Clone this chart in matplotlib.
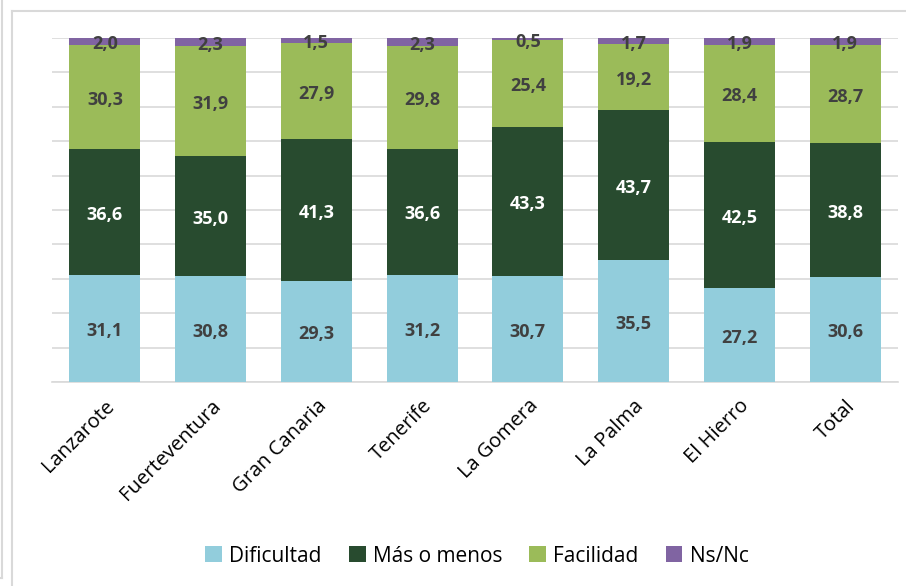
import numpy as np
import matplotlib.pyplot as plt
from matplotlib.lines import Line2D

islas = ["Lanzarote", "Fuerteventura", "Gran Canaria", "Tenerife",
         "La Gomera", "La Palma", "El Hierro", "Total"]
dificultad = [31.1, 30.8, 29.3, 31.2, 30.7, 35.5, 27.2, 30.6]
mas_o_menos = [36.6, 35.0, 41.3, 36.6, 43.3, 43.7, 42.5, 38.8]
facilidad = [30.3, 31.9, 27.9, 29.8, 25.4, 19.2, 28.4, 28.7]
ns_nc = [2.0, 2.3, 1.5, 2.3, 0.5, 1.7, 1.9, 1.9]

series = [("Dificultad", dificultad, "#92cddc", "#404040"),
          ("Más o menos", mas_o_menos, "#284b2f", "white"),
          ("Facilidad", facilidad, "#9bbb59", "#404040"),
          ("Ns/Nc", ns_nc, "#8064a2", "#404040")]

plt.rcParams['font.family'] = ['Open Sans', 'DejaVu Sans']

fig = plt.figure(figsize=(9.06, 5.86), dpi=100)
ax = fig.add_axes([52/906, 1-382/586, (898-52)/906, (382-38)/586])

# 100% apilado
tot = np.sum([s[1] for s in series], axis=0)
x = np.arange(len(islas))
base = np.zeros(len(islas))
for nombre, vals, col, tcol in series:
    v = np.array(vals) / tot * 100
    ax.bar(x, v, 0.67, bottom=base, color=col, label=nombre, zorder=3)
    for xi, b, h, raw in zip(x, base, v, vals):
        ax.text(xi, b + h/2 - 0.8, f"{raw:.1f}".replace(".", ","), ha="center", va="center",
                fontsize=13, fontweight="bold", color=tcol, zorder=4)
    base += v

ax.set_xlim(-0.5, len(islas) - 0.5)
ax.set_ylim(0, 100)
ax.set_yticks(np.arange(0, 101, 10))
ax.set_yticklabels([])
ax.tick_params(axis="y", length=0)
ax.tick_params(axis="x", length=0, pad=10)
ax.grid(axis="y", color="#d9d9d9", linewidth=1.2, zorder=0)
for s in ["top", "right", "left"]:
    ax.spines[s].set_visible(False)
ax.spines["bottom"].set_color("#d9d9d9")
ax.spines["bottom"].set_linewidth(1.2)
ax.set_xticks(x)
ax.set_xticklabels(islas, rotation=45, ha="right", rotation_mode="anchor", fontsize=14.5)

ax.legend(loc="center", bbox_to_anchor=(477/906, 1-556/586), bbox_transform=fig.transFigure,
          ncol=4, frameon=False, fontsize=15, handlelength=0.8, handleheight=0.8,
          columnspacing=1.3, handletextpad=0.35)

# marcos de la captura
W, H = 906, 586
fig.add_artist(Line2D([12/W, 12/W], [0, 1-11/H], color="#d9d9d9", lw=1.5, transform=fig.transFigure))
fig.add_artist(Line2D([12/W, 1], [1-11/H, 1-11/H], color="#d9d9d9", lw=1.5, transform=fig.transFigure))
fig.add_artist(Line2D([2/W, 2/W], [1-578/H, 1], color="#d9d9d9", lw=1.5, transform=fig.transFigure))
fig.add_artist(Line2D([0, 2/W], [1-578/H, 1-578/H], color="#d9d9d9", lw=1.5, transform=fig.transFigure))

fig.savefig("out.png", dpi=100)
